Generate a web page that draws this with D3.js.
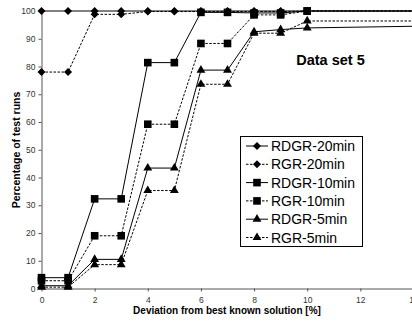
<!DOCTYPE html>
<html><head><meta charset="utf-8">
<script src="https://cdn.jsdelivr.net/npm/d3@7"></script>
<style>body{margin:0;background:#fff;}svg{display:block;font-family:"Liberation Sans",Arial,sans-serif;}</style>
</head><body><svg id="c" width="412" height="322"></svg>
<script>
const xs = [0,1,2,3,4,5,6,7,8,9,10];
const tailX = 14;
const seriesNames = ["RDGR-20min","RGR-20min","RDGR-10min","RGR-10min","RDGR-5min","RGR-5min"];
const rdgr20 = [100,100,100,100,100,100,100,100,100,100,100];
const rgr20  = [78,78,98.8,98.8,99.8,99.8,99.8,99.8,99.8,99.8,100];
const rdgr10 = [3.9,3.9,32.3,32.3,81.4,81.4,99.5,99.5,99.3,99.3,100];
const rgr10  = [2.8,2.8,19,19,59.2,59.2,88.3,88.3,98.6,98.6,100];
const rdgr5  = [1,1,10.5,10.5,43.4,43.4,78.7,78.7,92.5,93.3,93.9];
const rgr5   = [0.5,0.5,8.6,8.6,35.3,35.3,73.6,73.6,92,92,96.4];
const tails  = [100,100,100,100,94.5,96.4];
const markers = ["diamond","diamond","square","square","triangle","triangle"];
const dashed = [false,true,false,true,false,true];
const yTicks = [0,10,20,30,40,50,60,70,80,90,100];
const xTicks = [0,2,4,6,8,10,12,14];
const allValues = [rdgr20,rgr20,rdgr10,rgr10,rdgr5,rgr5];

const svg = d3.select("#c");
const x = d3.scaleLinear().domain([0,14]).range([41.5,413.5]);
const y = d3.scaleLinear().domain([0,100]).range([288.5,11]);

// axes
const ya = svg.append("g").attr("transform","translate(41.5,0)")
  .call(d3.axisLeft(y).tickValues(yTicks).tickSize(3).tickPadding(3).tickSizeOuter(0));
const xa = svg.append("g").attr("transform","translate(0,288.5)")
  .call(d3.axisBottom(x).tickValues(xTicks).tickSize(3).tickPadding(5).tickSizeOuter(0));
[ya,xa].forEach(a=>{
  a.select(".domain").attr("stroke","#555");
  a.selectAll(".tick line").attr("stroke","#555");
  a.selectAll(".tick text").attr("font-size","8.5px").attr("fill","#333").attr("font-family","Liberation Sans, Arial");
});

const squareDiamond = {draw(ctx,size){const r=Math.sqrt(size/2);ctx.moveTo(0,-r);ctx.lineTo(r,0);ctx.lineTo(0,r);ctx.lineTo(-r,0);ctx.closePath();}};
const symType = {diamond:squareDiamond, square:d3.symbolSquare, triangle:d3.symbolTriangle};
const symSize = {diamond:32, square:58, triangle:34};

const line = d3.line().x(d=>x(d[0])).y(d=>y(d[1]));
const plot = svg.append("g");
allValues.forEach((vals,i)=>{
  const pts = xs.map((xv,j)=>[xv,vals[j]]);
  pts.push([tailX,tails[i]]);
  plot.append("path").datum(pts).attr("d",line)
    .attr("fill","none").attr("stroke","#000").attr("stroke-width",1)
    .attr("stroke-dasharray",dashed[i]?"2.5,1.5":null);
});
allValues.forEach((vals,i)=>{
  plot.selectAll(null).data(xs.map((xv,j)=>[xv,vals[j]])).enter().append("path")
    .attr("transform",d=>`translate(${x(d[0])},${y(d[1])})`)
    .attr("d",d3.symbol().type(symType[markers[i]]).size(symSize[markers[i]]))
    .attr("fill","#000");
});

// titles
svg.append("text").attr("x",330.5).attr("y",65).attr("text-anchor","middle")
  .attr("font-size","14.5px").attr("font-weight","bold").text("Data set 5");
svg.append("text").attr("x",227).attr("y",313.5).attr("text-anchor","middle")
  .attr("font-size","10px").attr("font-weight","bold").text("Deviation from best known solution [%]");
svg.append("text").attr("transform","translate(19.5,150) rotate(-90)").attr("text-anchor","middle")
  .attr("font-size","10.5px").attr("font-weight","bold").text("Percentage of test runs");

// legend
const lg = svg.append("g");
lg.append("rect").attr("x",240.5).attr("y",136.5).attr("width",122).attr("height",110)
  .attr("fill","#fff").attr("stroke","#000").attr("stroke-width",1);
seriesNames.forEach((name,i)=>{
  const ly = 146 + i*18.3;
  lg.append("line").attr("x1",246).attr("x2",268).attr("y1",ly).attr("y2",ly)
    .attr("stroke","#000").attr("stroke-width",1).attr("stroke-dasharray",dashed[i]?"2.5,1.5":null);
  lg.append("path").attr("transform",`translate(257,${ly})`)
    .attr("d",d3.symbol().type(symType[markers[i]]).size(symSize[markers[i]])).attr("fill","#000");
  lg.append("text").attr("x",271).attr("y",ly+5).attr("font-size","14px").text(name);
});
</script></body></html>
